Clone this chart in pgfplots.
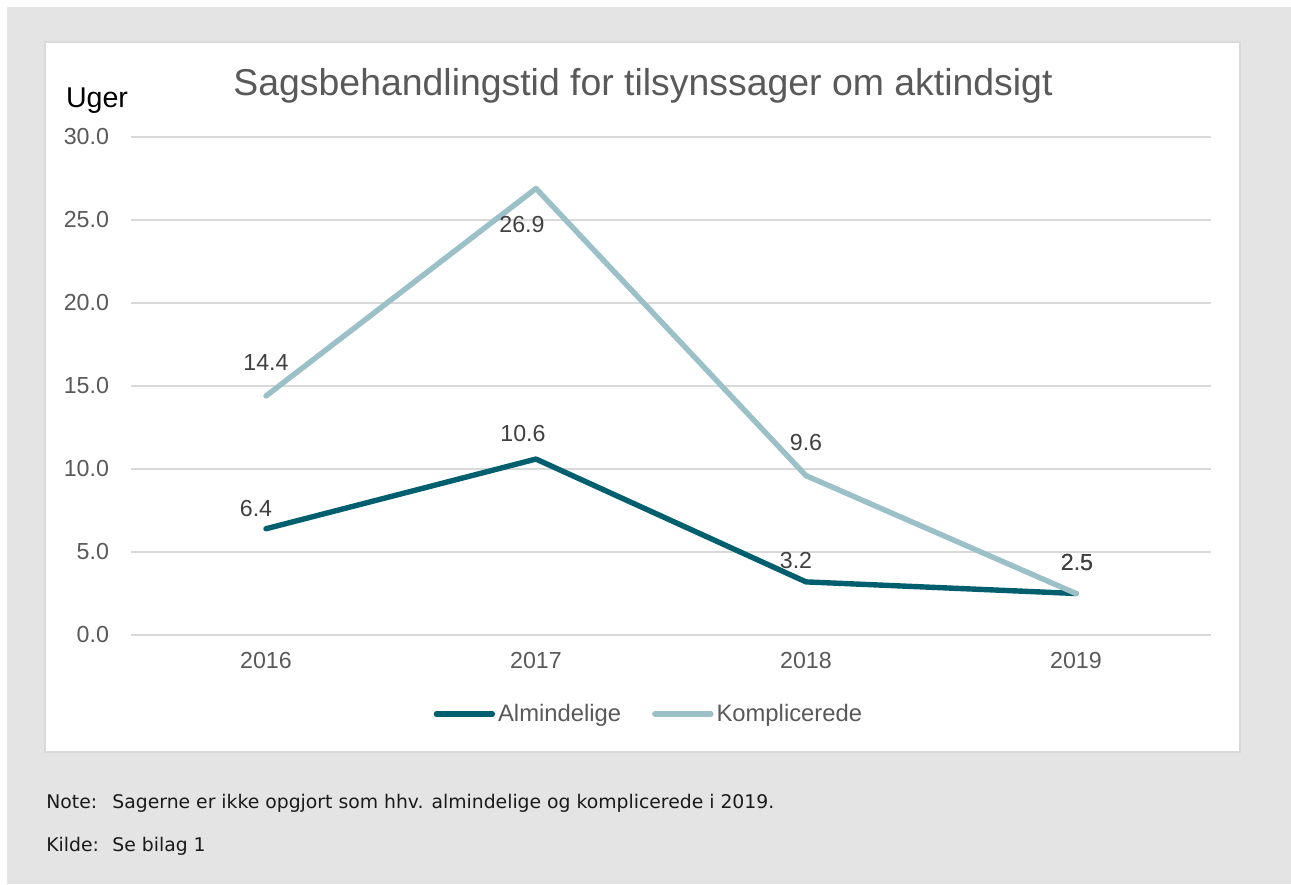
\documentclass[border=0pt]{standalone}
\usepackage{fontspec}
\setmainfont{Liberation Sans}
\newfontfamily\notefont{DejaVu Sans}
\usepackage{pgfplots}
\usepackage{pgfplotstable}
\pgfplotsset{compat=1.18}
\definecolor{bggrey}{HTML}{E4E4E4}
\definecolor{panelborder}{HTML}{D9D9D9}
\definecolor{gridgrey}{HTML}{D9D9D9}
\definecolor{tickgrey}{HTML}{595959}
\definecolor{labelgrey}{HTML}{404040}
\definecolor{notetext}{HTML}{1A1A1A}
\definecolor{almdark}{HTML}{005F6E}
\definecolor{komlight}{HTML}{9BC0C7}

% x = 2016..2019 plotted at 0..3; dx, dy = label offsets in pt
\pgfplotstableread{
x y dx dy
0 6.4 -5 10
1 10.6 -6.5 13
2 3.2 -5 10.5
3 2.5 0.5 15.5
}\almindelige
\pgfplotstableread{
x y dx dy
0 14.4 0 16.5
1 26.9 -7 -18
2 9.6 0 16.5
3 2.5 0.5 15.5
}\komplicerede

\begin{document}
\begin{tikzpicture}
\useasboundingbox (0pt,0pt) rectangle (645.5pt,-442pt);
\begin{scope}[x=0.5pt, y=-0.5pt]
  \fill[white] (0,0) rectangle (1291,884);
  \fill[bggrey] (7,7) rectangle (1291,884);
  \filldraw[fill=white, draw=panelborder, line width=1pt] (45,42) rectangle (1240,752);
  \node[anchor=base, inner sep=0pt, text=tickgrey, font=\fontsize{18.7}{22}\selectfont]
    at (643,95) {Sagsbehandlingstid for tilsynssager om aktindsigt};
  \node[anchor=base, inner sep=0pt, text=black, font=\fontsize{14.3}{17}\selectfont]
    at (97,107) {Uger};
  \begin{scope}[every node/.style={anchor=base west, inner sep=0pt, text=notetext, font=\notefont\fontsize{9.4}{11}\selectfont}]
    \node at (46,808) {Note:};
    \node at (112,808) {Sagerne er ikke opgjort som hhv. almindelige og komplicerede i 2019.};
    \node at (46,851) {Kilde:};
    \node at (112,851) {Se bilag 1};
  \end{scope}
\end{scope}

\begin{axis}[
  at={(65.5pt,-317.5pt)}, anchor=south west,
  scale only axis, width=540pt, height=249pt,
  xmin=-0.5, xmax=3.5, ymin=0, ymax=30,
  xtick={0,1,2,3}, xticklabels={2016,2017,2018,2019},
  ytick={0,5,10,15,20,25,30},
  yticklabel style={/pgf/number format/fixed, /pgf/number format/fixed zerofill,
    /pgf/number format/precision=1, xshift=-7.5pt},
  /pgf/number format/assume math mode=true,
  tick label style={font=\fontsize{11.6}{14}\selectfont, text=tickgrey},
  xticklabel style={yshift=-5pt},
  axis line style={draw=none}, major tick length=0pt,
  ymajorgrids, grid style={gridgrey, line width=0.75pt},
  clip=false,
  nodes near coords={\pgfmathprintnumber[fixed, fixed zerofill, precision=1, assume math mode=true]{\pgfplotspointmeta}},
  visualization depends on={\thisrow{dx} \as \dx},
  visualization depends on={\thisrow{dy} \as \dy},
  nodes near coords style={anchor=center, inner sep=0pt, text=labelgrey,
    font=\fontsize{11.6}{14}\selectfont, xshift=\dx*1pt, yshift=\dy*1pt},
  legend columns=2,
  legend style={at={(0.48,-0.1586)}, anchor=center, draw=none, fill=none,
    font=\fontsize{11.9}{14}\selectfont, text=tickgrey,
    /tikz/every even column/.append style={column sep=14pt},
    nodes={inner sep=1.5pt}},
  legend image code/.code={\draw[#1] (0pt,0pt) -- (28pt,0pt);},
]
\addplot[almdark, line width=2.7pt, line cap=round, line join=round]
  table[x=x, y=y] {\almindelige};
\addlegendentry{Almindelige}
\addplot[komlight, line width=2.7pt, line cap=round, line join=round]
  table[x=x, y=y] {\komplicerede};
\addlegendentry{Komplicerede}
\end{axis}
\end{tikzpicture}
\end{document}
